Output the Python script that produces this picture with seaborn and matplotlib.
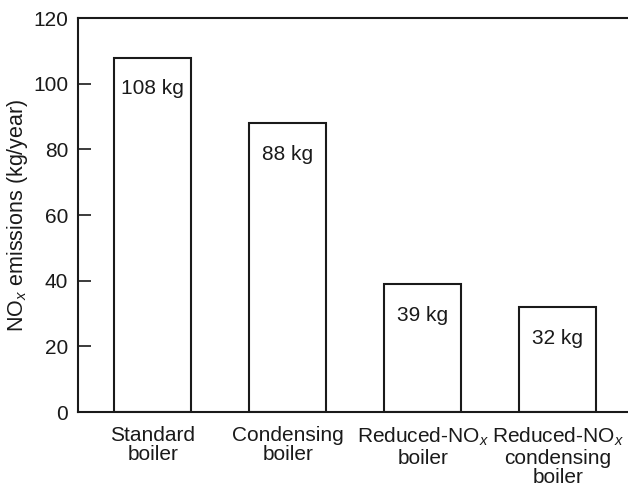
import matplotlib
matplotlib.use("Agg")
import matplotlib.pyplot as plt
import seaborn as sns
import pandas as pd

categories = ["Standard\nboiler", "Condensing\nboiler", "Reduced-NO$_x$\nboiler",
              "Reduced-NO$_x$\ncondensing\nboiler"]
emissions = [108, 88, 39, 32]
value_labels = ["108 kg", "88 kg", "39 kg", "32 kg"]
y_ticks = [0, 20, 40, 60, 80, 100, 120]

sns.set_theme(style="white")
plt.rcParams["font.family"] = ["Liberation Sans", "DejaVu Sans"]
plt.rcParams["mathtext.fontset"] = "custom"
plt.rcParams["mathtext.rm"] = "Liberation Sans"
plt.rcParams["mathtext.it"] = "Liberation Sans:italic"

ink = "#1a1a1a"
fs = 15
df = pd.DataFrame({"type": categories, "nox": emissions})

fig = plt.figure(figsize=(6.28, 4.88), dpi=100)
ax = fig.add_axes([0.124, 0.1557, 0.876, 0.807])

sns.barplot(data=df, x="type", y="nox", ax=ax, color="white",
            edgecolor=ink, linewidth=1.5, width=0.57, saturation=1)

for i, (v, lab) in enumerate(zip(emissions, value_labels)):
    ax.text(i, v - 9.5, lab, ha="center", va="center", fontsize=fs, color=ink)

ax.set_xlim(-0.556, 3.52)
ax.set_ylim(0, 120)
ax.set_yticks(y_ticks)
ax.set_xlabel("")
ax.set_ylabel("NO$_x$ emissions (kg/year)", fontsize=15.5, color=ink, labelpad=2)

for side in ["left", "bottom", "top"]:
    ax.spines[side].set_visible(True)
    ax.spines[side].set_color(ink)
    ax.spines[side].set_linewidth(1.5)
ax.spines["right"].set_visible(False)

ax.tick_params(axis="y", direction="in", length=9, width=1.2, colors=ink,
               labelsize=fs, pad=7, left=True)
ax.tick_params(axis="x", length=0, labelsize=fs, colors=ink, pad=10)
for t in ax.get_xticklabels():
    t.set_linespacing(1.02)

fig.savefig("out.png", dpi=100, facecolor="white")
